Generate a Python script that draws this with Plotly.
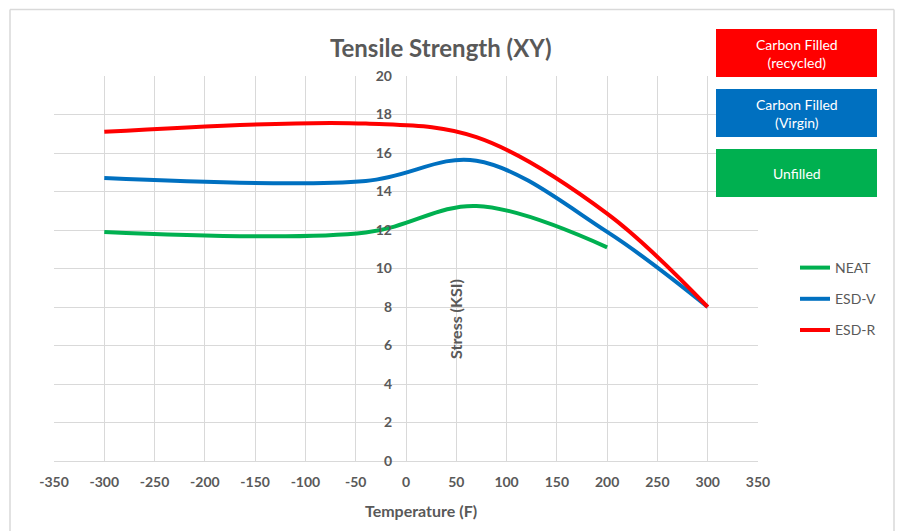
import plotly.graph_objects as go

# ---- data ----
temps_neat = [-300, -40, 70, 200]
neat = [11.9, 11.87, 13.25, 11.1]

temps_esd = [-300, -40, 70, 200, 300]
esd_v = [14.7, 14.55, 15.6, 11.9, 8.0]
esd_r = [17.1, 17.53, 16.82, 12.85, 8.0]

x_ticks = [-350, -300, -250, -200, -150, -100, -50, 0, 50, 100, 150, 200, 250, 300, 350]
y_ticks = [0, 2, 4, 6, 8, 10, 12, 14, 16, 18, 20]

W, H = 900, 531
L, R, T, B = 54, 758, 76, 461  # plot area pixels

def px(x):
    return (x - L) / (R - L)

def py(y):
    return (B - y) / (B - T)

GRAY = "#595959"
FONT = "Lato"

fig = go.Figure()
series = [
    ("NEAT", temps_neat, neat, "#00B050"),
    ("ESD-V", temps_esd, esd_v, "#0070C0"),
    ("ESD-R", temps_esd, esd_r, "#FF0000"),
]
for name, xs, ys, col in series:
    fig.add_trace(go.Scatter(
        x=xs, y=ys, name=name, mode="lines",
        line=dict(color=col, width=4, shape="spline", smoothing=1.0),
        legendgroup=name,
    ))

fig.update_layout(
    width=W, height=H,
    margin=dict(l=L, r=W - R, t=T, b=H - B, pad=0),
    paper_bgcolor="white", plot_bgcolor="white",
    showlegend=True,
    legend=dict(
        x=px(795), y=py(252), xanchor="left", yanchor="top",
        font=dict(family=FONT, size=14, color=GRAY),
        tracegroupgap=10, bgcolor="rgba(0,0,0,0)",
        itemwidth=30,
    ),
    xaxis=dict(
        range=[-350, 350], tickvals=x_ticks,
        ticktext=[str(v) for v in x_ticks],
        showgrid=True, gridcolor="#D9D9D9", gridwidth=1,
        zeroline=False, showline=True, linecolor="#D9D9D9", linewidth=1,
        tickfont=dict(family=FONT, size=14, color=GRAY, weight="bold"),
        ticks="", ticklabelstandoff=8,
    ),
    yaxis=dict(
        range=[0, 20], tickvals=y_ticks,
        showgrid=True, gridcolor="#D9D9D9", gridwidth=1,
        zeroline=False, showline=False,
        anchor="free", position=0.5, side="left",
        tickfont=dict(family=FONT, size=14, color=GRAY, weight="bold"),
        ticks="", ticklabelstandoff=14,
    ),
)

annotations = [
    dict(text="<b>Tensile Strength (XY)</b>", x=px(441), y=py(47), xref="paper", yref="paper",
         showarrow=False, font=dict(family=FONT, size=24, color=GRAY), xanchor="center", yanchor="middle"),
    dict(text="<b>Temperature (F)</b>", x=px(420.5), y=py(510), xref="paper", yref="paper",
         showarrow=False, font=dict(family=FONT, size=16, color=GRAY), xanchor="center", yanchor="middle"),
    dict(text="<b>Stress (KSI)</b>", x=px(455), y=py(319), xref="paper", yref="paper", textangle=-90,
         showarrow=False, font=dict(family=FONT, size=16, color=GRAY), xanchor="center", yanchor="middle"),
]

boxes = [
    ("Carbon Filled<br>(recycled)", "#FF0000", 29, 77),
    ("Carbon Filled<br>(Virgin)", "#0070C0", 89, 137),
    ("Unfilled", "#00B050", 149, 197),
]
shapes = []
for text, col, y0, y1 in boxes:
    shapes.append(dict(type="rect", xref="paper", yref="paper",
                       x0=px(716), x1=px(877), y0=py(y1), y1=py(y0),
                       fillcolor=col, line=dict(width=0), layer="above"))
    annotations.append(dict(text=text, x=px(796.5), y=py((y0 + y1) / 2), xref="paper", yref="paper",
                            showarrow=False, font=dict(family=FONT, size=14, color="white"),
                            xanchor="center", yanchor="middle", align="center"))

# outer chart border
border = "#D9D9D9"
shapes += [
    dict(type="line", xref="paper", yref="paper", x0=px(10), x1=px(894), y0=py(9.5), y1=py(9.5),
         line=dict(color=border, width=1.5)),
    dict(type="line", xref="paper", yref="paper", x0=px(10), x1=px(10), y0=py(9.5), y1=py(540),
         line=dict(color=border, width=1.5)),
    dict(type="line", xref="paper", yref="paper", x0=px(894), x1=px(894), y0=py(9.5), y1=py(540),
         line=dict(color=border, width=1.5)),
]

fig.update_layout(annotations=annotations, shapes=shapes)
fig.write_html("out.html")
